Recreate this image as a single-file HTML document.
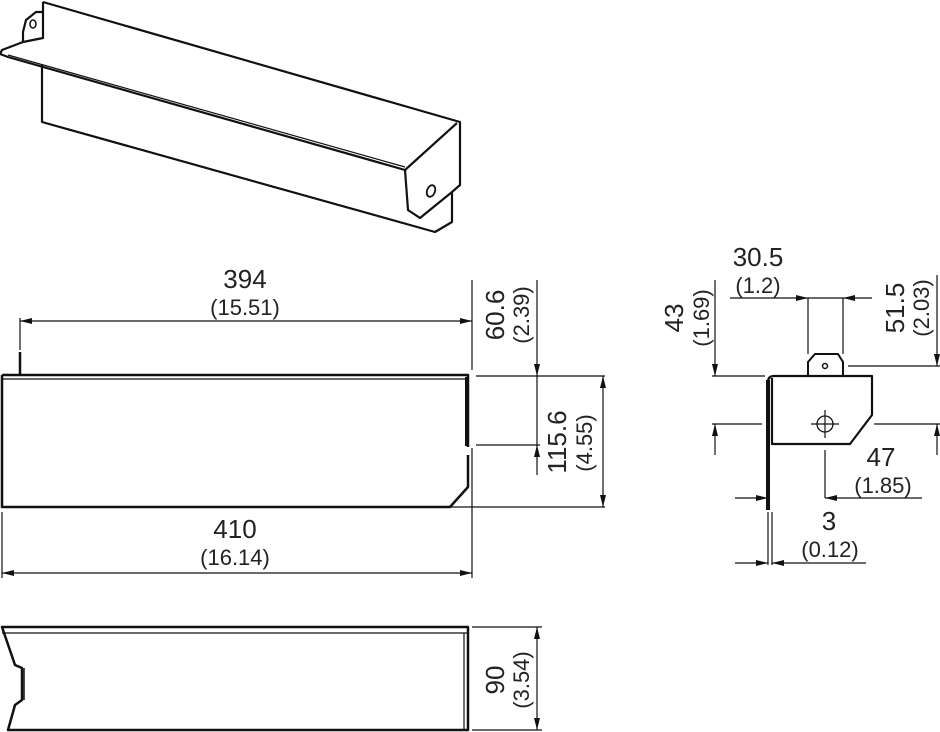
<!DOCTYPE html>
<html><head><meta charset="utf-8"><style>
html,body{margin:0;padding:0;background:#fff}
svg{display:block}
text{font-family:"Liberation Sans",sans-serif;fill:#222}
.b{font-size:26px}.s{font-size:22px}
</style></head><body>
<svg width="940" height="732" viewBox="0 0 940 732" xmlns="http://www.w3.org/2000/svg">
<defs>
<marker id="a" viewBox="0 0 12 6" refX="12" refY="3" markerWidth="12" markerHeight="6" orient="auto-start-reverse" markerUnits="userSpaceOnUse"><path d="M0,0 L12,3 L0,6 z" fill="#111"/></marker>
</defs>
<g fill="none" stroke="#111" stroke-linejoin="round">
<!-- isometric -->
<g stroke-width="2.2">
<path d="M43,2 L460,122 L460,185 L452,192 L452,222 L435,232 L42,122 L42,65"/>
<path d="M43,2 L43,12 L36,12 L26,20 L23,32 L23,42 L2,50 L0,54 L8,57 L405,170 L457,123"/>
<path d="M405,170 L408,210 L420,218 L452,192"/>
<path d="M23,42 L43,38 L43,12"/>
</g>
<path d="M8,55 L405,167" stroke-width="1.2"/>
<ellipse cx="33" cy="24" rx="3" ry="4" stroke-width="1.5"/>
<ellipse cx="431" cy="191" rx="4" ry="6" transform="rotate(20 431 191)" stroke-width="1.8"/>
<!-- front view -->
<path d="M2,375 L468,375 L468,447" stroke-width="2.5"/>
<path d="M468,455 L468,487 L450,507 L2,507 L2,375" stroke-width="2.5"/>
<path d="M2,379 L468,379" stroke-width="1.2"/>
<path d="M467,377 L467,446" stroke-width="4"/>
<path d="M20,352 L20,375" stroke-width="2.5"/>
<!-- bottom view -->
<path d="M2,627 L468,627 L468,730 L8,730 L15,705 L22,700 L22,668 L15,665 Z" stroke-width="2.5"/>
<path d="M2,633 L468,633 M464,633 L464,730" stroke-width="1.2"/>
<path d="M24,668 L24,700" stroke-width="1.5"/>
<!-- side view -->
<path d="M768,510 L768,382 Q768,376 774,376 L872,376 L872,415 L850,444 L772,444 L772,378" stroke-width="2.2"/>
<path d="M768,380 L768,510" stroke-width="4"/>
<path d="M808,376 L808,362 L815,354 L838,354 L843,362 L843,376" stroke-width="2"/>
<circle cx="825" cy="366" r="2.5" stroke-width="1.5"/>
<circle cx="825" cy="424" r="8" stroke-width="1.3"/>
<path d="M811,424 L839,424 M825,410 L825,438" stroke-width="1.2"/>
</g>
<g fill="none" stroke="#111" stroke-width="1.2">
<!-- 394 -->
<path d="M20,318 L20,350 M472,280 L472,370 M472,448 L472,578"/>
<path d="M20,321 L472,321" marker-start="url(#a)" marker-end="url(#a)"/>
<!-- 410 -->
<path d="M2,512 L2,578"/>
<path d="M2,573 L472,573" marker-start="url(#a)" marker-end="url(#a)"/>
<!-- 60.6 / 115.6 -->
<path d="M476,376 L605,376 M476,445 L540,445 M450,507 L605,507"/>
<path d="M537,280 L537,376" marker-end="url(#a)"/>
<path d="M537,475 L537,445" marker-end="url(#a)"/>
<path d="M537,376 L537,445"/>
<path d="M603,376 L603,507" marker-start="url(#a)" marker-end="url(#a)"/>
<!-- 90 -->
<path d="M472,627 L542,627 M472,730 L542,730"/>
<path d="M537,627 L537,730" marker-start="url(#a)" marker-end="url(#a)"/>
<!-- 30.5 -->
<path d="M808,298 L808,354 M843,298 L843,354"/>
<path d="M730,298 L808,298" marker-end="url(#a)"/>
<path d="M872,298 L843,298" marker-end="url(#a)"/>
<path d="M808,298 L843,298"/>
<!-- 43 -->
<path d="M712,376 L765,376 M712,424 L762,424"/>
<path d="M715,280 L715,376" marker-end="url(#a)"/>
<path d="M715,455 L715,424" marker-end="url(#a)"/>
<!-- 51.5 -->
<path d="M848,366 L940,366 M874,424 L940,424"/>
<path d="M937,275 L937,366" marker-end="url(#a)"/>
<path d="M937,455 L937,424" marker-end="url(#a)"/>
<!-- 47 -->
<path d="M825,450 L825,498"/>
<path d="M735,498 L768,498" marker-end="url(#a)"/>
<path d="M922,498 L825,498" marker-end="url(#a)"/>
<!-- 3 -->
<path d="M768,512 L768,565 M772,512 L772,565"/>
<path d="M735,563 L768,563" marker-end="url(#a)"/>
<path d="M866,563 L772,563" marker-end="url(#a)"/>
</g>
<g text-anchor="middle">
<text class="b" x="245" y="288">394</text>
<text class="s" x="245" y="315">(15.51)</text>
<text class="b" x="235" y="538">410</text>
<text class="s" x="235" y="565">(16.14)</text>
<text class="b" transform="translate(504,315) rotate(-90)">60.6</text>
<text class="s" transform="translate(529,315) rotate(-90)">(2.39)</text>
<text class="b" transform="translate(566,442) rotate(-90)">115.6</text>
<text class="s" transform="translate(592,443) rotate(-90)">(4.55)</text>
<text class="b" transform="translate(504,680) rotate(-90)">90</text>
<text class="s" transform="translate(529,680) rotate(-90)">(3.54)</text>
<text class="b" x="758" y="266">30.5</text>
<text class="s" x="758" y="293">(1.2)</text>
<text class="b" transform="translate(683,318) rotate(-90)">43</text>
<text class="s" transform="translate(709,318) rotate(-90)">(1.69)</text>
<text class="b" transform="translate(904,308) rotate(-90)">51.5</text>
<text class="s" transform="translate(929,308) rotate(-90)">(2.03)</text>
<text class="b" x="881" y="466">47</text>
<text class="s" x="883" y="493">(1.85)</text>
<text class="b" x="829" y="530">3</text>
<text class="s" x="830" y="557">(0.12)</text>
</g>
</svg>
</body></html>
